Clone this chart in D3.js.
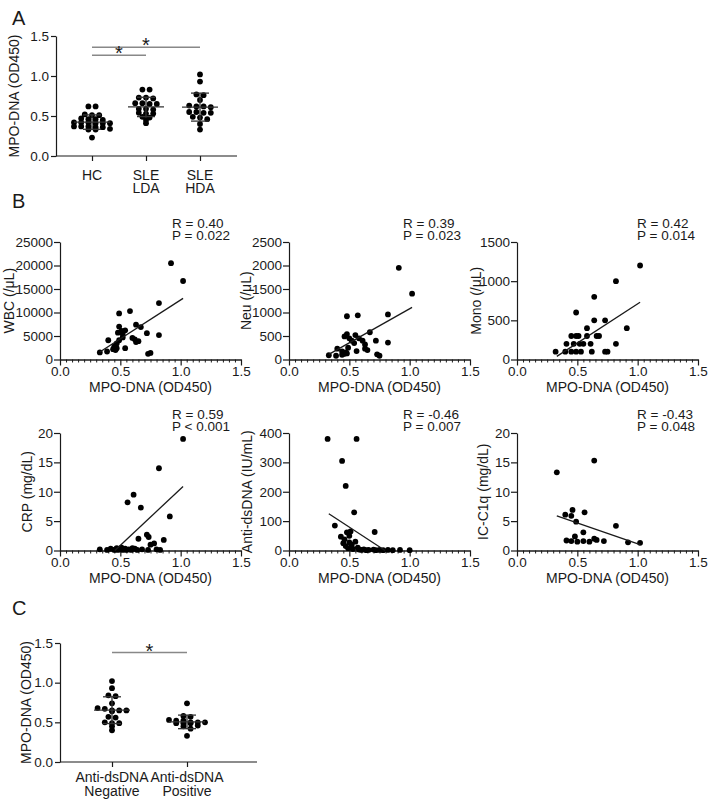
<!DOCTYPE html>
<html>
<head>
<meta charset="utf-8">
<script src="https://cdn.jsdelivr.net/npm/d3@7"></script>
<style>
  body { margin: 0; background: #fff; }
  svg { display: block; font-family: "Liberation Sans", Arial, sans-serif; }
</style>
</head>
<body>
<svg id="chart" width="708" height="801"></svg>
<script>
// ---- panel A: MPO-DNA by group
const groupsA = ["HC", "SLE\nLDA", "SLE\nHDA"];
const hcValues = [0.62, 0.62, 0.52, 0.51, 0.51, 0.47, 0.46, 0.46, 0.45, 0.42, 0.42, 0.42,
  0.41, 0.41, 0.41, 0.37, 0.37, 0.37, 0.36, 0.36, 0.34, 0.33, 0.33, 0.23];
const ldaValues = [0.83, 0.83, 0.73, 0.73, 0.72, 0.66, 0.66, 0.65, 0.65, 0.59, 0.59, 0.58,
  0.54, 0.53, 0.53, 0.49, 0.48, 0.45, 0.41];
const hdaValues = [1.02, 0.93, 0.77, 0.76, 0.70, 0.63, 0.62, 0.62, 0.61, 0.55, 0.55, 0.54,
  0.54, 0.49, 0.48, 0.46, 0.40, 0.33];
const sigA = [["HC", "SLE\nHDA", 1.36], ["HC", "SLE\nLDA", 1.26]];

// ---- panel B: correlations with MPO-DNA (x = OD450)
const wbcPoints = [[0.92, 20500], [1.02, 16700], [0.82, 12000], [0.58, 10300], [0.49, 9800],
  [0.63, 7400], [0.49, 7000], [0.67, 6900], [0.54, 6200], [0.51, 6100], [0.48, 5700],
  [0.72, 5600], [0.52, 5400], [0.82, 5200], [0.52, 4700], [0.60, 4600], [0.62, 4300],
  [0.49, 4100], [0.40, 4100], [0.65, 3900], [0.63, 3700], [0.47, 3400], [0.45, 2800],
  [0.47, 2400], [0.54, 2400], [0.44, 2200], [0.46, 2000], [0.39, 1700], [0.33, 1500],
  [0.75, 1400], [0.73, 1200]];
const neuPoints = [[0.91, 1950], [1.02, 1400], [0.82, 960], [0.48, 920], [0.57, 940],
  [0.67, 580], [0.48, 540], [0.46, 490], [0.55, 520], [0.50, 450], [0.52, 400], [0.54, 350],
  [0.61, 400], [0.72, 400], [0.63, 320], [0.63, 230], [0.82, 360], [0.49, 250], [0.40, 230],
  [0.56, 180], [0.65, 200], [0.44, 170], [0.47, 150], [0.46, 120], [0.48, 130], [0.33, 90],
  [0.39, 80], [0.73, 110], [0.75, 80], [0.44, 100], [0.58, 450]];
const monoPoints = [[1.02, 1200], [0.82, 1000], [0.64, 800], [0.49, 600], [0.64, 500],
  [0.73, 500], [0.91, 400], [0.58, 400], [0.45, 300], [0.49, 300], [0.51, 300], [0.58, 300],
  [0.66, 300], [0.68, 300], [0.41, 200], [0.47, 200], [0.52, 200], [0.55, 200], [0.61, 200],
  [0.82, 200], [0.32, 100], [0.40, 100], [0.45, 100], [0.49, 100], [0.53, 100], [0.62, 100],
  [0.73, 100], [0.75, 100]];
const crpPoints = [[1.02, 19], [0.82, 14], [0.61, 9.5], [0.56, 8.2], [0.67, 7.3], [0.91, 5.8],
  [0.72, 2.7], [0.735, 2.3], [0.65, 2.0], [0.86, 1.8], [0.78, 1.2], [0.75, 1.0],
  [0.33, 0.2], [0.39, 0.1], [0.42, 0.3], [0.45, 0.1], [0.47, 0.4], [0.48, 0.1], [0.50, 0.2],
  [0.51, 0.5], [0.52, 0.1], [0.54, 0.3], [0.55, 0.1], [0.57, 0.2], [0.59, 0.1], [0.62, 0.3],
  [0.64, 0.1], [0.68, 0.2], [0.73, 0.1], [0.80, 0.2], [0.83, 0.1], [0.46, 0.2], [0.60, 0.4]];
const dsdnaPoints = [[0.32, 380], [0.56, 380], [0.44, 305], [0.47, 220], [0.54, 130],
  [0.38, 85], [0.71, 63], [0.48, 62], [0.51, 65], [0.43, 47], [0.50, 50], [0.45, 25],
  [0.47, 15], [0.49, 8], [0.52, 20], [0.53, 5], [0.55, 30], [0.57, 10], [0.58, 3], [0.60, 2],
  [0.62, 4], [0.64, 1], [0.66, 2], [0.70, 3], [0.72, 1], [0.75, 2], [0.78, 1], [0.82, 2],
  [0.86, 1], [0.92, 2], [1.0, 1], [0.50, 28], [0.46, 38], [0.52, 10]];
const c1qPoints = [[0.33, 13.3], [0.64, 15.3], [0.46, 6.9], [0.40, 6.1], [0.45, 5.9],
  [0.56, 6.5], [0.49, 4.9], [0.82, 4.2], [0.55, 3.1], [0.48, 2.4], [0.41, 1.7], [0.64, 2.0],
  [0.50, 1.5], [0.55, 1.6], [0.60, 1.5], [0.72, 1.6], [0.92, 1.4], [1.02, 1.3], [0.66, 1.8],
  [0.45, 1.6]];

const yLabelsB = ["WBC (/\u03bcL)", "Neu (/\u03bcL)", "Mono (/\u03bcL)",
  "CRP (mg/dL)", "Anti-dsDNA (IU/mL)", "IC-C1q (mg/dL)"];
const yMaxB = [25000, 2500, 1500, 20, 400, 20];
const yStepB = [5000, 500, 500, 5, 100, 5];
const rValues = ["0.40", "0.39", "0.42", "0.59", "-0.46", "-0.43"];
const pValues = ["= 0.022", "= 0.023", "= 0.014", "< 0.001", "= 0.007", "= 0.048"];
// regression lines: [x, y] at both ends
const fitLines = [
  [[0.33, 1600], [1.02, 13000]],
  [[0.33, 110], [1.02, 1110]],
  [[0.33, 40], [1.02, 730]],
  [[0.33, -2.4], [1.02, 10.9]],
  [[0.33, 125], [1.02, -60]],
  [[0.33, 5.9], [1.02, 1.0]]
];

// ---- panel C: MPO-DNA by anti-dsDNA status
const groupsC = ["Anti-dsDNA\nNegative", "Anti-dsDNA\nPositive"];
const negValues = [1.02, 0.93, 0.84, 0.83, 0.74, 0.68, 0.67, 0.65, 0.65, 0.65, 0.64, 0.57,
  0.56, 0.50, 0.49, 0.49, 0.45, 0.40];
const posValues = [0.74, 0.58, 0.57, 0.53, 0.52, 0.52, 0.50, 0.50, 0.50, 0.49, 0.49, 0.49,
  0.46, 0.45, 0.42, 0.33];
const sigC = [["Anti-dsDNA\nNegative", "Anti-dsDNA\nPositive", 1.38]];

const svg = d3.select("#chart");
const ink = "#1a1a1a";
const tickFont = 13.5;
const dotR = 2.9;

function styleAxis(sel) {
  sel.select(".domain").attr("stroke", ink).attr("stroke-width", 1.2);
  sel.selectAll(".tick line").attr("stroke", ink).attr("stroke-width", 1.2);
  sel.selectAll(".tick text").attr("fill", ink).style("font-size", tickFont + "px")
    .style("font-family", "'Liberation Sans', Arial, sans-serif");
}

// panel letters
svg.selectAll("text.letter")
  .data([["A", 12, 25], ["B", 12, 208], ["C", 12, 615]])
  .join("text")
    .attr("class", "letter")
    .attr("x", d => d[1])
    .attr("y", d => d[2])
    .attr("font-size", 20)
    .attr("fill", ink)
    .text(d => d[0]);

// dots grouped into rows of near-equal value and spread sideways
function swarm(values, y, r) {
  const step = 2 * r + 1.4;
  const items = values.map(v => ({ v, py: y(v) })).sort((a, b) => a.py - b.py);
  const rows = [];
  for (const d of items) {
    const last = rows[rows.length - 1];
    if (last && d.py - last[0].py <= 2.6) last.push(d);
    else rows.push([d]);
  }
  rows.forEach(row => row.forEach((d, j) => { d.dx = (j - (row.length - 1) / 2) * step; }));
  return items;
}

function dotPlot(o) {
  const y = d3.scaleLinear().domain([0, 1.5]).range([o.bottom, o.top]);
  const x = d3.scalePoint().domain(o.groups).range(o.catRange);
  const g = svg.append("g");

  const ya = g.append("g").attr("transform", `translate(${o.axisX},0)`)
    .call(d3.axisLeft(y).tickValues([0, 0.5, 1, 1.5]).tickFormat(d3.format(".1f"))
      .tickSize(5).tickPadding(2).tickSizeOuter(0));
  styleAxis(ya);

  const xa = g.append("g").attr("transform", `translate(0,${o.bottom})`)
    .call(d3.axisBottom(x).tickSize(5).tickFormat("").tickSizeOuter(0));
  xa.select(".domain").attr("d", `M${o.axisX},0H${o.axisEnd}`);
  styleAxis(xa);

  // category labels, two lines
  const lab = g.append("g").selectAll("text").data(o.groups).join("text")
    .attr("text-anchor", "middle").attr("font-size", 14).attr("fill", ink)
    .attr("x", d => x(d));
  lab.selectAll("tspan").data(d => d.split("\n").map(s => [d, s])).join("tspan")
    .attr("x", d => x(d[0]))
    .attr("y", (d, i) => o.bottom + o.labelDy + i * 13.5)
    .text(d => d[1]);

  // y title
  g.append("text")
    .attr("transform", `translate(${o.titleX},${(o.top + o.bottom) / 2}) rotate(-90)`)
    .attr("text-anchor", "middle").attr("dy", "0.35em")
    .attr("font-size", 14).attr("fill", ink)
    .text("MPO-DNA (OD450)");

  // dots, mean and SD
  o.groups.forEach((grp, i) => {
    const vals = o.values[i];
    const cx = x(grp);
    const pts = swarm(vals, y, dotR);
    g.append("g").selectAll("circle").data(pts).join("circle")
      .attr("cx", d => cx + d.dx).attr("cy", d => d.py).attr("r", dotR).attr("fill", "#000");
    const m = d3.mean(vals), sd = d3.deviation(vals);
    const eg = g.append("g").attr("stroke", "#333").attr("stroke-width", 1.3).attr("fill", "none");
    eg.append("line").attr("x1", cx - 18).attr("x2", cx + 18).attr("y1", y(m)).attr("y2", y(m));
    eg.append("line").attr("x1", cx).attr("x2", cx).attr("y1", y(m - sd)).attr("y2", y(m + sd));
    [m - sd, m + sd].forEach(v => eg.append("line")
      .attr("x1", cx - 9).attr("x2", cx + 9).attr("y1", y(v)).attr("y2", y(v)));
  });

  // significance bars
  o.sig.forEach(([a, b, v]) => {
    g.append("line").attr("x1", x(a)).attr("x2", x(b)).attr("y1", y(v)).attr("y2", y(v))
      .attr("stroke", "#888").attr("stroke-width", 1.5);
    g.append("text").attr("x", (x(a) + x(b)) / 2).attr("y", y(v) + 5)
      .attr("text-anchor", "middle").attr("font-size", 20).attr("fill", ink).text("*");
  });
}

dotPlot({
  groups: groupsA, values: [hcValues, ldaValues, hdaValues], sig: sigA,
  axisX: 56, axisEnd: 237, catRange: [92, 200], top: 36, bottom: 156,
  labelDy: 23.5, titleX: 14
});

dotPlot({
  groups: groupsC, values: [negValues, posValues], sig: sigC,
  axisX: 60, axisEnd: 257, catRange: [112, 187], top: 643, bottom: 762,
  labelDy: 20, titleX: 26
});

// ---- panel B grid
const pointsB = [wbcPoints, neuPoints, monoPoints, crpPoints, dsdnaPoints, c1qPoints];
const colX = [60, 289, 517];
const rowTop = [242, 433];
const plotW = 181, plotH = 117.5;
const statDx = [112, 114, 120];
const titleDx = [-51, -43, -41, -33, -42, -34];

pointsB.forEach((pts, i) => {
  const col = i % 3, row = Math.floor(i / 3);
  const x0 = colX[col], top = rowTop[row], bottom = top + plotH;
  const x = d3.scaleLinear().domain([0, 1.5]).range([x0, x0 + plotW]);
  const y = d3.scaleLinear().domain([0, yMaxB[i]]).range([bottom, top]);
  const g = svg.append("g");

  const ya = g.append("g").attr("transform", `translate(${x0},0)`)
    .call(d3.axisLeft(y).tickValues(d3.range(0, yMaxB[i] + 1e-9, yStepB[i]))
      .tickFormat(d3.format("d")).tickSize(6).tickPadding(1).tickSizeOuter(0));
  styleAxis(ya);

  const minor = d3.range(0, 31).map(k => k * 0.05).filter((v, k) => k % 10 !== 0);
  const xm = g.append("g").attr("transform", `translate(0,${bottom})`)
    .call(d3.axisBottom(x).tickValues(minor).tickSize(3).tickFormat("").tickSizeOuter(0));
  styleAxis(xm);
  xm.selectAll(".tick line").attr("stroke-width", 1);
  const xa = g.append("g").attr("transform", `translate(0,${bottom})`)
    .call(d3.axisBottom(x).tickValues([0, 0.5, 1, 1.5]).tickFormat(d3.format(".1f"))
      .tickSize(6).tickPadding(1).tickSizeOuter(0));
  styleAxis(xa);

  g.append("text")
    .attr("x", x0 + plotW / 2).attr("y", bottom + 32)
    .attr("text-anchor", "middle").attr("font-size", 14).attr("fill", ink)
    .text("MPO-DNA (OD450)");

  g.append("text")
    .attr("transform", `translate(${x0 + titleDx[i]},${(top + bottom) / 2}) rotate(-90)`)
    .attr("text-anchor", "middle").attr("dy", "0.35em")
    .attr("font-size", 14).attr("fill", ink)
    .text(yLabelsB[i]);

  g.append("text").attr("x", x0 + statDx[col]).attr("y", top - 14.5)
    .attr("font-size", 13.5).attr("fill", ink).text("R = " + rValues[i]);
  g.append("text").attr("x", x0 + statDx[col]).attr("y", top - 2)
    .attr("font-size", 13.5).attr("fill", ink).text("P " + pValues[i]);

  g.append("g").selectAll("circle").data(pts).join("circle")
    .attr("cx", d => x(d[0])).attr("cy", d => y(d[1])).attr("r", dotR).attr("fill", "#000");

  // regression line, cut where it leaves the y range
  let [[ax, ay], [bx, by]] = fitLines[i];
  const slope = (by - ay) / (bx - ax);
  if (ay < 0) { ax = ax - ay / slope; ay = 0; }
  if (by < 0) { bx = bx - by / slope; by = 0; }
  g.append("line")
    .attr("x1", x(ax)).attr("y1", y(ay)).attr("x2", x(bx)).attr("y2", y(by))
    .attr("stroke", ink).attr("stroke-width", 1.3);
});
</script>
</body>
</html>
